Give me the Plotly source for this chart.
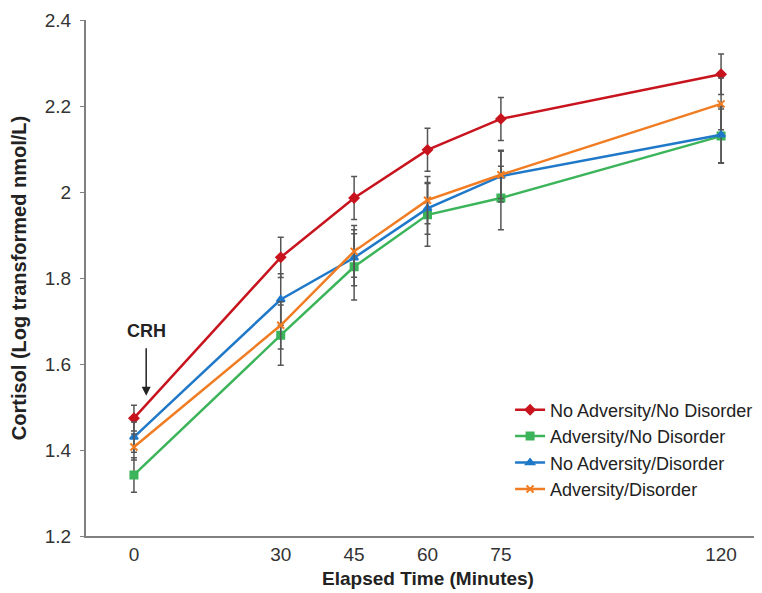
import plotly.graph_objects as go

minutes = [0, 30, 45, 60, 75, 120]

groups = ["No Adversity/No Disorder", "Adversity/No Disorder",
          "No Adversity/Disorder", "Adversity/Disorder"]

no_adv_no_dis = [1.474, 1.848, 1.986, 2.098, 2.170, 2.274]
adv_no_dis = [1.342, 1.667, 1.826, 1.947, 1.986, 2.130]
no_adv_dis = [1.430, 1.750, 1.847, 1.962, 2.037, 2.133]
adv_dis = [1.407, 1.690, 1.862, 1.981, 2.040, 2.205]

err_no_adv_no_dis = [0.030, 0.047, 0.050, 0.050, 0.050, 0.047]
err_adv_no_dis = [0.040, 0.070, 0.077, 0.073, 0.074, 0.063]
err_no_adv_dis = [0.035, 0.060, 0.065, 0.060, 0.060, 0.065]
err_adv_dis = [0.030, 0.055, 0.060, 0.055, 0.055, 0.060]

series = [no_adv_no_dis, adv_no_dis, no_adv_dis, adv_dis]
errors = [err_no_adv_no_dis, err_adv_no_dis, err_no_adv_dis, err_adv_dis]
colors = ["#c8141e", "#3cb45a", "#1f78c8", "#f07d23"]
symbols = ["diamond", "square", "triangle-up", "x-thin-open"]

fig = go.Figure()
for name, ys, err, col, sym in zip(groups, series, errors, colors, symbols):
    fig.add_trace(go.Scatter(
        x=minutes, y=ys, name=name, mode="lines+markers",
        line=dict(color=col, width=2.5),
        marker=dict(symbol=sym, size=7, color=col,
                    line=dict(color=col, width=2)),
        error_y=dict(type="data", array=err, visible=True,
                     color="#555555", thickness=1.5, width=3),
    ))

# CRH injection marker
fig.add_annotation(x=2.5, y=1.526, ax=2.5, ay=1.64, xref="x", yref="y",
                   axref="x", ayref="y", showarrow=True, arrowhead=2,
                   arrowsize=1.2, arrowwidth=1.5, arrowcolor="#222222", text="")
fig.add_annotation(x=2.5, y=1.677, xref="x", yref="y", showarrow=False,
                   text="<b>CRH</b>", font=dict(size=18, color="#222222"))

fig.update_layout(
    width=762, height=593,
    margin=dict(l=78, r=0, t=12, b=65),
    plot_bgcolor="white", paper_bgcolor="white",
    font=dict(family="Liberation Sans, Arial, sans-serif", color="#222222"),
    showlegend=True,
    legend=dict(x=0.62, y=0.28, xanchor="left", yanchor="top",
                font=dict(size=18, color="#222222"),
                bgcolor="rgba(0,0,0,0)", tracegroupgap=0),
)
fig.update_xaxes(
    range=[-9.8, 130], tickvals=minutes, ticktext=[str(m) for m in minutes],
    showgrid=False, zeroline=False, showline=True, linecolor="#808080",
    linewidth=2, ticks="", tickfont=dict(size=19, color="#333333"),
    title=dict(text="<b>Elapsed Time (Minutes)</b>", font=dict(size=19),
               standoff=8),
)
fig.update_yaxes(
    range=[1.2, 2.4], tickvals=[1.2, 1.4, 1.6, 1.8, 2.0, 2.2, 2.4],
    ticktext=["1.2", "1.4", "1.6", "1.8", "2", "2.2", "2.4"],
    showgrid=False, zeroline=False, showline=True, linecolor="#808080",
    linewidth=2, ticks="outside", ticklen=4, tickcolor="#808080",
    ticklabelstandoff=5,
    tickfont=dict(size=19, color="#333333"),
    title=dict(text="<b>Cortisol (Log transformed nmol/L)</b>",
               font=dict(size=20), standoff=14),
)

fig.write_html("out.html")
